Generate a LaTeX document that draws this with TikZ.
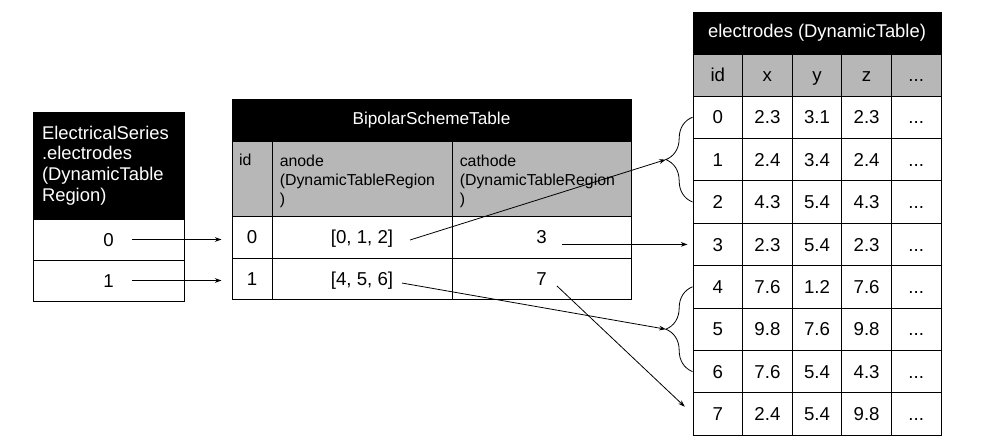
\documentclass[tikz,border=0pt]{standalone}
\usepackage{fontspec}
\setmainfont{Liberation Sans}
\usetikzlibrary{arrows.meta,decorations.pathreplacing}

\begin{document}
\begin{tikzpicture}[x=0.75pt, y=-0.75pt,
    every node/.style={inner sep=0pt},
    sz/.style 2 args={minimum width=#1*0.75pt, minimum height=#2*0.75pt},
    cell/.style={draw, line width=0.75pt, font=\fontsize{14}{16}\selectfont},
    val/.style={cell, text height=10pt, text depth=0pt},
    hcell/.style={cell, fill=hdr_black, text=white},
    gcell/.style={val, fill=hdr_gray},
    glab/.style={anchor=north west, align=left, font=\fontsize{11.9}{14.6}\selectfont},
    arr/.style={-{Stealth[length=5pt,width=3.5pt]}, line width=0.6pt},
    brc/.style={decorate, decoration={brace, amplitude=20pt}, line width=0.6pt},
]
    \definecolor{hdr_black}{HTML}{000000}
    \definecolor{hdr_gray}{HTML}{B7B7B7}
    \useasboundingbox (0,0) rectangle (994,446);

    % ElectricalSeries.electrodes
    \node[hcell, sz={151}{107}, text width=99.75pt, inner xsep=6.75pt, align=left,
        font=\fontsize{13.8}{15.4}\selectfont] (esh) at (108.5,165.5)
        {ElectricalSeries\\.electrodes\\(DynamicTable\\Region)};
    \node[val, sz={151}{41}] (es0) at (108.5,239.5) {0};
    \node[val, sz={151}{41}] (es1) at (108.5,280.5) {1};

    % BipolarSchemeTable
    \node[hcell, sz={399}{42}, font=\fontsize{12.9}{15}\selectfont] (bsh) at (431.5,120) {BipolarSchemeTable};
    \node[cell, fill=hdr_gray, sz={40}{75}] (bsgi) at (252,178.5) {};
    \node[cell, fill=hdr_gray, sz={180}{75}] (bsga) at (362,178.5) {};
    \node[cell, fill=hdr_gray, sz={179}{75}] (bsgc) at (541.5,178.5) {};
    \node[glab] (bsli) at ([xshift=5.5pt,yshift=-10.3pt]bsgi.north west) {id};
    \node[glab] (bsla) at ([xshift=6pt,yshift=-10.3pt]bsga.north west) {anode\\(DynamicTableRegion\\)};
    \node[glab] (bslc) at ([xshift=6pt,yshift=-10.3pt]bsgc.north west) {cathode\\(DynamicTableRegion\\)};
    \node[val, sz={40}{42}] (bs0) at (252,237) {0};
    \node[val, sz={180}{42}] (bsa0) at (362,237) {[0, 1, 2]};
    \node[val, sz={179}{42}] (bsc0) at (541.5,237) {3};
    \node[val, sz={40}{41}] (bs1) at (252,278.5) {1};
    \node[val, sz={180}{41}] (bsa1) at (362,278.5) {[4, 5, 6]};
    \node[val, sz={179}{41}] (bsc1) at (541.5,278.5) {7};

    % electrodes
    \node[hcell, sz={248}{42}, font=\fontsize{13.8}{16}\selectfont] (elh) at (817,33) {electrodes (DynamicTable)};
    \foreach \i/\t in {0/id,1/x,2/y,3/z}
        \node[gcell, sz={49.6}{42}] (elg\i) at (717.8+49.6*\i,75) {\t};
    \node[gcell, sz={49.6}{42}] (elg4) at (916.2,75) {...};
    \foreach \r/\a/\b/\c in {0/2.3/3.1/2.3, 1/2.4/3.4/2.4, 2/4.3/5.4/4.3, 3/2.3/5.4/2.3,
                             4/7.6/1.2/7.6, 5/9.8/7.6/9.8, 6/7.6/5.4/4.3, 7/2.4/5.4/9.8} {
        \node[val, sz={49.6}{42.4}] (e\r) at (717.8,117.2+42.4*\r) {\r};
        \node[val, sz={49.6}{42.4}] (ex\r) at (767.4,117.2+42.4*\r) {\a};
        \node[val, sz={49.6}{42.4}] (ey\r) at (817,117.2+42.4*\r) {\b};
        \node[val, sz={49.6}{42.4}] (ez\r) at (866.6,117.2+42.4*\r) {\c};
        \node[val, sz={49.6}{42.4}] (ed\r) at (916.2,117.2+42.4*\r) {...};
    }

    % braces
    \draw[brc] (e2.west) -- (e0.west);
    \draw[brc] (e6.west) -- (e4.west);
    \coordinate (tipA) at ([xshift=-20pt]e1.west);
    \coordinate (tipB) at ([xshift=-20pt]e5.west);

    % arrows
    \draw[arr, shorten <=17.6pt, shorten >=7.5pt] (es0.center) -- (es0.center -| bs0.west);
    \draw[arr, shorten <=17.6pt, shorten >=7.5pt] (es1.center) -- (es1.center -| bs1.west);
    \draw[arr] ([xshift=36pt,yshift=-2.25pt]bsa0.center) -- (tipA);
    \draw[arr, shorten <=15.4pt, shorten >=3.75pt] (bsc0.center |- e3.west) -- (e3.west);
    \draw[arr] ([xshift=30pt,yshift=-3.4pt]bsa1.center) -- (tipB);
    \draw[arr, shorten >=8pt] ([xshift=11.6pt,yshift=-5.6pt]bsc1.center) -- (e7.west);
\end{tikzpicture}
\end{document}
